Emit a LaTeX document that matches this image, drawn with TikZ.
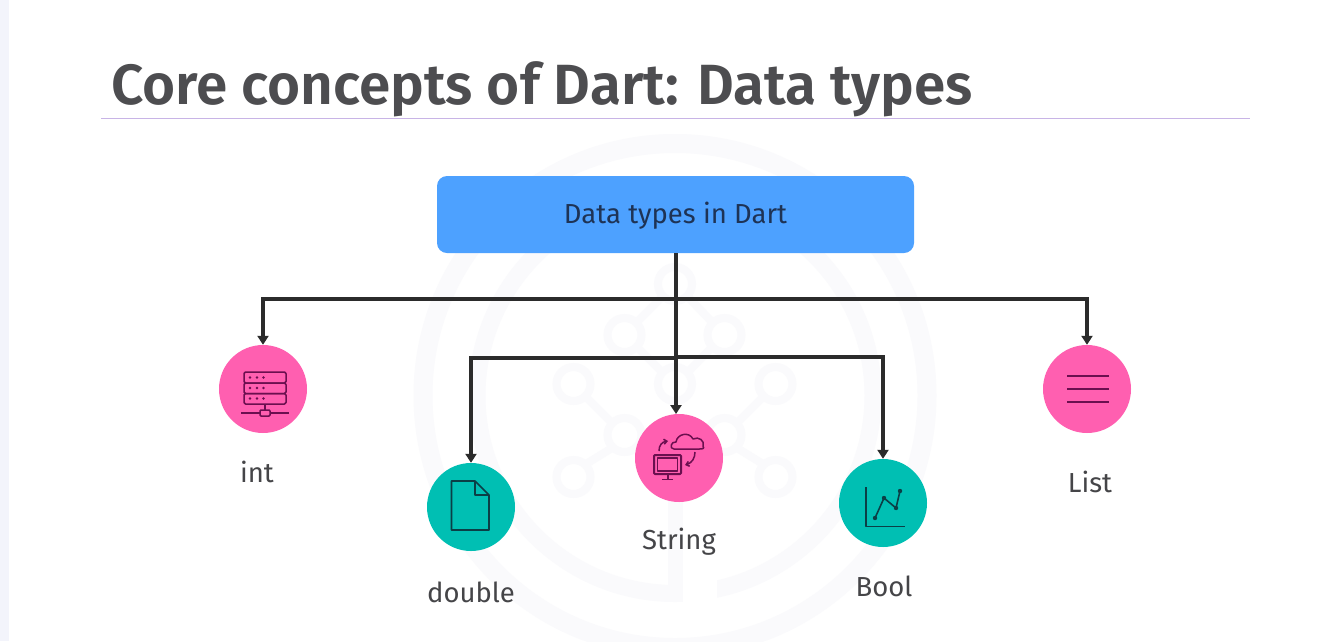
\documentclass[tikz,border=0pt]{standalone}
\usepackage{fontspec}
\setmainfont[BoldFont={Fira Sans SemiBold}]{Fira Sans}
\usetikzlibrary{arrows.meta}
\definecolor{pinkc}{HTML}{FF5FB0}
\definecolor{tealc}{HTML}{00BFB3}
\definecolor{bluec}{HTML}{4DA1FF}
\definecolor{wm}{HTML}{FAFAFC}
\definecolor{inkc}{HTML}{2B2B2B}
\definecolor{txt}{HTML}{454548}
\definecolor{titlec}{HTML}{4D4D50}
\definecolor{headtxt}{HTML}{1E3355}
\definecolor{rulec}{HTML}{C8B4E6}
\definecolor{stripc}{HTML}{F3F4FB}
\definecolor{pinkink}{HTML}{6B0F4F}
\definecolor{tealink}{HTML}{0B3F46}
\tikzset{
  x=1pt,y=-1pt,
  conn/.style={draw=inkc,line width=3.1pt,-{Triangle[length=9pt,width=11pt]}},
  bubble/.style={circle,minimum size=88pt,inner sep=0pt,text width=0pt},
  lab/.style={font=\fontsize{27.5}{30}\selectfont,text=txt,inner sep=0pt},
  wmline/.style={draw=wm,line width=8pt},
  pinkicon/.style={draw=pinkink,line width=1.5pt,fill=none,line join=round},
  tealicon/.style={draw=tealink,line width=1.6pt,fill=none,line join=round},
}
\begin{document}
\begin{tikzpicture}
\useasboundingbox (0,0) rectangle (1335,641);
\fill[white] (0,0) rectangle (1335,641);
\fill[stripc] (0,0) rectangle (9,641);
% watermark
\draw[wm,line width=19pt] (675,395.5) circle[radius=252];
\draw[wm,line width=17pt] (675,395.5) circle[radius=198];
\fill[white] (683,565) rectangle (717,615);
\foreach \px/\py in {675/284,624.5/335,724.5/335,573.5/384,675/384,775.5/384,624.5/435,724.5/435,573.5/477,775.5/477}
  \draw[wmline] (\px,\py) circle[radius=17];
\draw[wmline] (637,347) -- (662,372) (712,347) -- (688,372) (586,397) -- (612,423) (763,397) -- (737,423)
  (612,448) -- (586,464) (737,448) -- (763,464) (637,322) -- (662,297) (712,322) -- (688,297);
\fill[wm] (668,500) rectangle (683,602);
% title
\node[anchor=base west,inner sep=0pt,text=titlec,font=\fontsize{56.7}{60}\selectfont\bfseries] (title) at (111,104) {Core concepts of Dart: Data types};
\coordinate (ruleL) at (101,118.5);
\coordinate (ruleR) at (1250,118.5);
\draw[draw=rulec,line width=1.2pt] (ruleL) -- (ruleR);
% header
\node[fill=bluec,rounded corners=10pt,minimum width=477pt,minimum height=77pt,inner sep=0pt] (head) at (675.5,214.5) {};
\node[inner sep=0pt,text=headtxt,font=\fontsize{27.5}{30}\selectfont] (headlabel) at (675.5,215.5) {Data types in Dart};
% bubbles
\node[bubble,fill=pinkc] (int) at (263,389) {};
\node[bubble,fill=tealc] (dbl) at (471,507) {};
\node[bubble,fill=pinkc] (str) at (679,458) {};
\node[bubble,fill=tealc] (bool) at (883,503) {};
\node[bubble,fill=pinkc] (list) at (1087,389) {};
% labels
\node[lab] (lint) at (257,472) {int};
\node[lab] (ldbl) at (471,592) {double};
\node[lab] (lstr) at (679,541.5) {String};
\node[lab] (lbool) at (884,586.5) {Bool};
\node[lab] (llist) at (1090,482) {List};
% connectors
\coordinate (busA) at (676,299);
\coordinate (busB) at (676,358);
\coordinate (busC) at (676,357);
\coordinate (strTop) at (676,414);
\draw[conn] (head.south -| busA) -- (strTop);
\draw[conn] (busA) -| (int.north);
\draw[conn] (busA) -| (list.north);
\draw[conn] (busB) -| (dbl.north);
\draw[conn] (busC) -| (bool.north);
% int icon: server
\begin{scope}[pinkicon]
\draw[rounded corners=1.5pt] (244,372) rectangle (286,383);
\draw[rounded corners=1.5pt] (244,383) rectangle (286,393.5);
\draw[rounded corners=1.5pt] (244,393.5) rectangle (286,404);
\foreach \yy in {377.5,388,398.5}\foreach \xx in {250,257,263.5}\fill[pinkink] (\xx,\yy) circle[radius=1.3];
\draw (265,404) -- (265,410);
\draw[rounded corners=1pt] (260,410) rectangle (270,416);
\draw (241,413) -- (260,413) (270,413) -- (289,413);
\end{scope}
% double icon: document
\draw[tealicon] (451.5,481) -- (475,481) -- (489,495) -- (489,530) -- (451.5,530) -- cycle;
\draw[tealicon] (475,481) -- (475,495) -- (489,495);
% string icon
\begin{scope}[pinkicon]
\draw (674,449) .. controls (669,449) and (671,441) .. (676,442) .. controls (677,434) and (689,431) .. (693,439) .. controls (699,436) and (705,441) .. (703,446) .. controls (705,449) and (702,449) .. (699,449) -- cycle;
\draw[line width=2pt,rounded corners=1pt] (654,455) rectangle (681,474);
\draw (657.5,458) rectangle (677.5,471);
\draw (668,474) -- (668,479) (662,479.5) -- (673,479.5);
\draw[-{Straight Barb[length=3pt,width=5pt]}] (659,451) .. controls (659,445) and (662,442) .. (668,441);
\draw[-{Straight Barb[length=3pt,width=5pt]}] (695,452) .. controls (695,458) and (692,463) .. (685,465);
\end{scope}
% bool icon: chart
\begin{scope}[tealicon]
\draw (866,487) -- (866,526.5) -- (905,526.5);
\draw (875,518) -- (884,498) -- (896,508) -- (900,491);
\foreach \px/\py in {875/518,884/498,896/508,900/491}\fill[tealink] (\px,\py) circle[radius=2.2];
\end{scope}
% list icon
\begin{scope}[draw=pinkink,line width=1.2pt]
\draw (1067,376) -- (1109,376) (1067,389) -- (1109,389) (1067,402) -- (1109,402);
\end{scope}
\end{tikzpicture}
\end{document}
